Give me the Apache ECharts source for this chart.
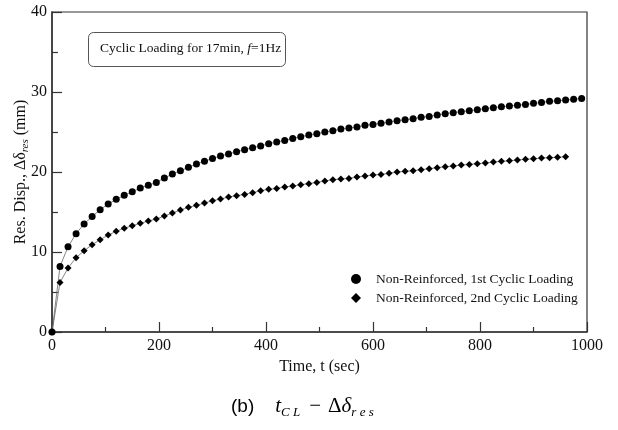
<!DOCTYPE html>
<html>
<head>
<meta charset="utf-8">
<script src="https://cdn.jsdelivr.net/npm/echarts@6/dist/echarts.min.js"></script>
<style>
  html, body { margin: 0; padding: 0; background: #fff; }
  #container { width: 618px; height: 430px; }
</style>
</head>
<body>
<div id="container"></div>
<script>
const time1 = [0, 15, 30, 45, 60, 75, 90, 105, 120, 135, 150, 165, 180, 195, 210, 225, 240, 255, 270, 285,
  300, 315, 330, 345, 360, 375, 390, 405, 420, 435, 450, 465, 480, 495, 510, 525, 540, 555, 570, 585,
  600, 615, 630, 645, 660, 675, 690, 705, 720, 735, 750, 765, 780, 795, 810, 825, 840, 855, 870, 885,
  900, 915, 930, 945, 960, 975, 990]
const disp1 = [0, 8.2, 10.66, 12.29, 13.5, 14.45, 15.29, 16.0, 16.58, 17.08, 17.54, 18.0, 18.33, 18.7, 19.25, 19.75, 20.16, 20.58, 21.0, 21.33,
  21.7, 22.0, 22.25, 22.54, 22.79, 23.04, 23.25, 23.54, 23.75, 23.95, 24.2, 24.41, 24.62, 24.79, 25.0, 25.16, 25.37, 25.5, 25.62, 25.83,
  25.95, 26.08, 26.25, 26.41, 26.52, 26.66, 26.83, 26.95, 27.12, 27.29, 27.41, 27.54, 27.66, 27.79, 27.91, 28.04, 28.16, 28.25, 28.33, 28.45,
  28.58, 28.7, 28.83, 28.91, 29.0, 29.08, 29.2]

const time2 = [0, 15, 30, 45, 60, 75, 90, 105, 120, 135, 150, 165, 180, 195, 210, 225, 240, 255, 270, 285,
  300, 315, 330, 345, 360, 375, 390, 405, 420, 435, 450, 465, 480, 495, 510, 525, 540, 555, 570, 585,
  600, 615, 630, 645, 660, 675, 690, 705, 720, 735, 750, 765, 780, 795, 810, 825, 840, 855, 870, 885,
  900, 915, 930, 945, 960]
const disp2 = [0, 6.2, 8.0, 9.29, 10.16, 10.91, 11.54, 12.12, 12.58, 12.96, 13.29, 13.58, 13.87, 14.12, 14.5, 14.87, 15.25, 15.58, 15.83, 16.12,
  16.41, 16.62, 16.87, 17.04, 17.2, 17.41, 17.66, 17.83, 17.95, 18.12, 18.25, 18.41, 18.54, 18.7, 18.87, 19.04, 19.12, 19.2, 19.37, 19.5,
  19.62, 19.7, 19.83, 20.0, 20.08, 20.16, 20.29, 20.41, 20.54, 20.66, 20.75, 20.87, 20.95, 21.04, 21.12, 21.25, 21.33, 21.41, 21.5, 21.58,
  21.66, 21.75, 21.79, 21.83, 21.91]

const xTicks = [0, 200, 400, 600, 800, 1000]
const yTicks = [0, 10, 20, 30, 40]

const seriesNames = ['Non-Reinforced, 1st Cyclic Loading', 'Non-Reinforced, 2nd Cyclic Loading']

const serif = 'Liberation Serif'
const axisColor = '#333'

const chart = echarts.init(document.getElementById('container'))

const zip = (xs, ys) => xs.map((x, i) => [x, ys[i]])

const option = {
  backgroundColor: '#fff',
  animation: false,
  grid: {
    left: 52,
    right: 31,
    top: 12,
    bottom: 98,
    containLabel: false,
    outerBoundsMode: 'none',
    show: true,
    borderColor: axisColor,
    borderWidth: 1.2
  },
  legend: {
    orient: 'vertical',
    left: 346,
    top: 267,
    itemGap: 5,
    itemWidth: 10,
    itemHeight: 10,
    data: [
      { name: seriesNames[0], icon: 'circle' },
      { name: seriesNames[1], icon: 'diamond', itemStyle: { color: '#000' } }
    ],
    textStyle: { fontFamily: serif, fontSize: 13.5, color: '#111', padding: [0, 0, 0, 10] }
  },
  xAxis: {
    type: 'value',
    min: xTicks[0],
    max: xTicks[xTicks.length - 1],
    interval: 200,
    name: 'Time, t (sec)',
    nameLocation: 'middle',
    nameGap: 27,
    nameTextStyle: { fontFamily: serif, fontSize: 16, color: '#111' },
    axisLine: { lineStyle: { color: axisColor, width: 1.5 } },
    axisTick: { inside: true, length: 10, lineStyle: { color: axisColor, width: 1.2 } },
    minorTick: { show: true, splitNumber: 2, length: 5, lineStyle: { color: axisColor, width: 1.2 } },
    axisLabel: { fontFamily: serif, fontSize: 16, color: '#111', margin: 6, formatter: v => String(v) },
    splitLine: { show: false }
  },
  yAxis: {
    type: 'value',
    min: yTicks[0],
    max: yTicks[yTicks.length - 1],
    interval: 10,
    name: 'Res. Disp., Δδ{sub|res} (mm)',
    nameLocation: 'middle',
    nameGap: 21,
    nameMoveOverlap: false,
    nameTextStyle: {
      fontFamily: serif, fontSize: 16, color: '#111',
      rich: { sub: { fontFamily: serif, fontSize: 11, fontStyle: 'italic', color: '#111', padding: [9, 0, 0, 0] } }
    },
    axisLine: { lineStyle: { color: axisColor, width: 1.5 } },
    axisTick: { inside: true, length: 10, lineStyle: { color: axisColor, width: 1.2 } },
    minorTick: { show: true, splitNumber: 2, length: 6, lineStyle: { color: axisColor, width: 1.2 } },
    axisLabel: { fontFamily: serif, fontSize: 16, color: '#111', margin: 5 },
    splitLine: { show: false }
  },
  series: [
    {
      name: seriesNames[0],
      type: 'line',
      data: zip(time1, disp1),
      symbol: 'circle',
      symbolSize: 7,
      itemStyle: { color: '#000' },
      lineStyle: { color: '#666', width: 0.8 },
      z: 3
    },
    {
      name: seriesNames[1],
      type: 'line',
      data: zip(time2, disp2),
      symbol: 'diamond',
      symbolSize: 7,
      itemStyle: { color: '#000' },
      lineStyle: { color: '#666', width: 0.8 },
      z: 3
    }
  ],
  graphic: [
    {
      type: 'rect',
      left: 88,
      top: 32,
      shape: { width: 197, height: 34, r: 5 },
      style: { fill: '#fff', stroke: '#555', lineWidth: 1 }
    },
    {
      type: 'text',
      left: 100,
      top: 41,
      style: {
        text: 'Cyclic Loading for 17min, {i|f}=1Hz',
        fontFamily: serif,
        fontSize: 13.5,
        fill: '#111',
        rich: { i: { fontFamily: serif, fontSize: 13.5, fontStyle: 'italic', color: '#111' } }
      }
    },
    {
      type: 'text',
      left: 231,
      top: 396,
      style: {
        text: '{b|(b)}{t|t}{s|C L}{n|−}{d|Δ}{m|δ}{s|r e s}',
        rich: {
          b: { fontFamily: 'Liberation Sans', fontSize: 19, color: '#111', padding: [0, 21, 0, 0] },
          t: { fontFamily: serif, fontSize: 21, fontStyle: 'italic', color: '#111' },
          m: { fontFamily: serif, fontSize: 21, fontStyle: 'italic', color: '#111' },
          n: { fontFamily: serif, fontSize: 21, color: '#111', padding: [0, 7, 0, 9] },
          d: { fontFamily: serif, fontSize: 21, color: '#111' },
          s: { fontFamily: serif, fontSize: 13, fontStyle: 'italic', color: '#111', padding: [12, 0, 0, 0] }
        }
      }
    }
  ]
}

chart.setOption(option)
</script>
</body>
</html>
